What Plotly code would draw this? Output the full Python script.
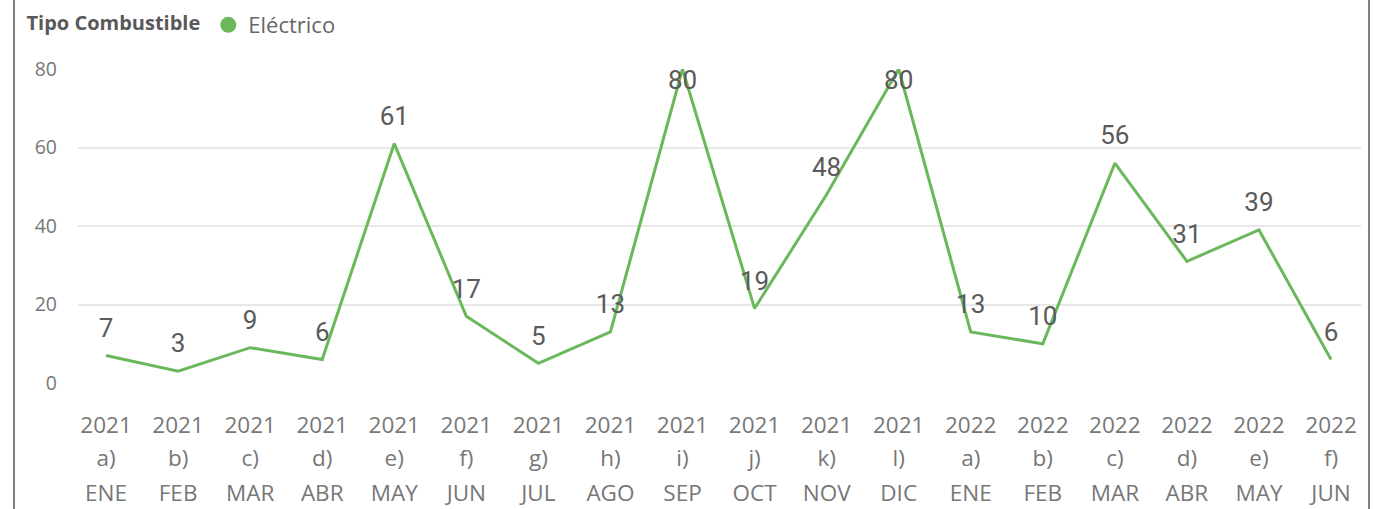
import plotly.graph_objects as go

years = ["2021"] * 12 + ["2022"] * 6
letters = ["a)", "b)", "c)", "d)", "e)", "f)", "g)", "h)", "i)", "j)", "k)", "l)",
           "a)", "b)", "c)", "d)", "e)", "f)"]
months = ["ENE", "FEB", "MAR", "ABR", "MAY", "JUN", "JUL", "AGO", "SEP", "OCT", "NOV", "DIC",
          "ENE", "FEB", "MAR", "ABR", "MAY", "JUN"]
electrico = [7, 3, 9, 6, 61, 17, 5, 13, 80, 19, 48, 80, 13, 10, 56, 31, 39, 6]
y_ticks = [0, 20, 40, 60, 80]

series_name = "Eléctrico"
legend_title = "Tipo Combustible"

GREEN = "#6bb85c"
YMAX = 80
idx = list(range(len(months)))

text_pos = ["bottom center" if v >= YMAX else "top center" for v in electrico]
msize = [0 if v >= YMAX else 18 for v in electrico]

W, H = 1374, 509
L, T, R, B = 78, 69, 13, 126
PW = W - L - R
PH = H - T - B

fig = go.Figure()
fig.add_trace(go.Scatter(
    x=idx, y=electrico, mode="lines+markers+text",
    line=dict(color=GREEN, width=3),
    marker=dict(size=msize, color=GREEN, opacity=0, line=dict(width=0)),
    text=[str(v) for v in electrico], textposition=text_pos,
    textfont=dict(family="Roboto", size=26, color="#5a5a5a"),
    cliponaxis=False, showlegend=False, hoverinfo="x+y",
))
fig.add_trace(go.Scatter(
    x=[None], y=[None], mode="markers", name=series_name,
    marker=dict(size=16, color=GREEN), showlegend=True,
))

xr = [-0.389, 17.416]
tick_font = dict(family="Segoe UI, Open Sans, sans-serif", size=22.5, color="#777777")
common_x = dict(range=xr, tickmode="array", tickvals=idx, showgrid=False,
                zeroline=False, showline=False, ticks="", tickfont=tick_font,
                automargin=False, fixedrange=True)

border_x = [(14 - L) / PW, (1369 - L) / PW]

fig.update_layout(
    width=W, height=H,
    margin=dict(l=L, r=R, t=T, b=B, autoexpand=False),
    paper_bgcolor="white", plot_bgcolor="white",
    xaxis=dict(ticktext=years, ticklabelstandoff=26, **common_x),
    xaxis2=dict(ticktext=letters, overlaying="x", anchor="y", side="bottom",
                ticklabelstandoff=59, **common_x),
    xaxis3=dict(ticktext=months, overlaying="x", anchor="y", side="bottom",
                ticklabelstandoff=94, **common_x),
    yaxis=dict(range=[0, YMAX], tickvals=y_ticks, showgrid=True,
               gridcolor="#e8e8e8", gridwidth=1.5, zeroline=False, showline=False,
               ticks="", ticklabelstandoff=20, automargin=False, fixedrange=True,
               tickfont=dict(family="Segoe UI, Open Sans, sans-serif", size=19.5, color="#777777")),
    legend=dict(
        title=dict(text="<b>" + legend_title + "</b>",
                   font=dict(family="Segoe UI, Open Sans, sans-serif", size=20, color="#595959")),
        orientation="h", xref="paper", yref="paper",
        x=(24.5 - L) / PW, y=1 + (T - 4) / PH, xanchor="left", yanchor="top",
        font=dict(family="Segoe UI, Open Sans, sans-serif", size=22, color="#666666"),
        bgcolor="rgba(0,0,0,0)",
    ),
    shapes=[
        dict(type="line", xref="paper", yref="paper",
             x0=bx, x1=bx, y0=-2, y1=2,
             line=dict(color="#808080", width=2))
        for bx in border_x
    ],
)

# empty traces so the extra label axes are drawn
fig.add_trace(go.Scatter(x=[None], y=[None], xaxis="x2", showlegend=False, hoverinfo="skip"))
fig.add_trace(go.Scatter(x=[None], y=[None], xaxis="x3", showlegend=False, hoverinfo="skip"))

fig.write_html(
    "out.html",
    config={"displayModeBar": False},
    post_script="document.body.style.margin='0';document.body.style.overflow='hidden';",
)
